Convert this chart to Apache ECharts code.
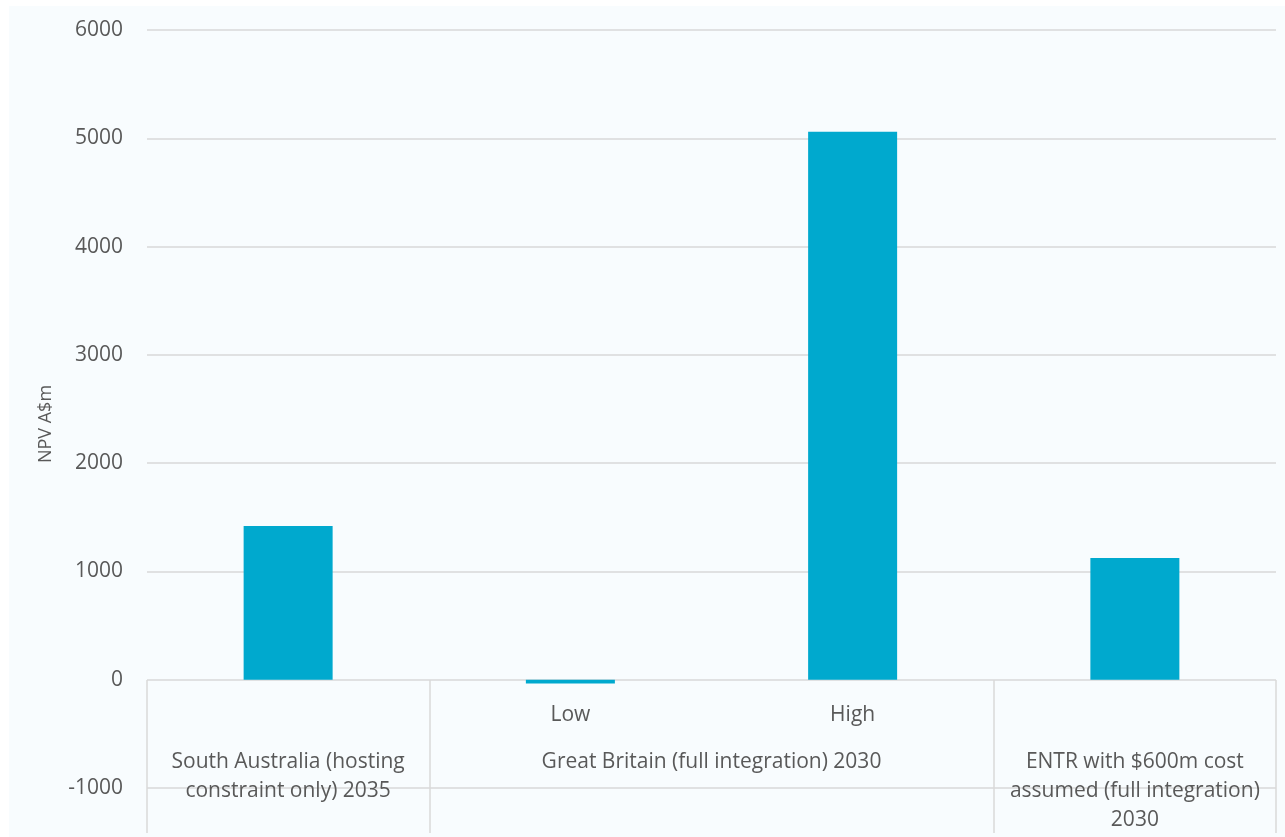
<!DOCTYPE html>
<html>
<head>
<meta charset="utf-8">
<script src="https://cdn.jsdelivr.net/npm/echarts@6/dist/echarts.min.js"></script>
<style>
  html, body { margin: 0; padding: 0; background: #ffffff; }
  #bg { position: absolute; left: 9px; top: 6px; right: 0; bottom: 0; background: #F8FCFE; }
  #chart { position: absolute; left: 0; top: 0; width: 1285px; height: 837px; }
</style>
</head>
<body>
<div id="bg"></div>
<div id="chart"></div>
<script>
// ---- data ----
const subLabels = ['', 'Low', 'High', ''];
const values = [1420, -35, 5060, 1125];
const groupLabels = [
  'South Australia (hosting\nconstraint only) 2035',
  'Great Britain (full integration) 2030',
  'ENTR with $600m cost\nassumed (full integration)\n2030'
];
const groupSpans = [1, 2, 1]; // number of categories in each group
const yTicks = { min: -1000, max: 6000, interval: 1000 };
const yAxisName = 'NPV A$m';

// group centre positions (in category units) and boundaries
const groupCenters = [];
const groupBounds = [0];
let acc = 0;
groupSpans.forEach(s => { groupCenters.push(acc + s / 2); acc += s; groupBounds.push(acc); });

const textColor = '#595959';
const lineColor = '#D9D9D9';
const font = '"Open Sans", sans-serif';

const sepInterval = function (idx) { return groupBounds.indexOf(idx) !== -1; };

const chart = echarts.init(document.getElementById('chart'));
chart.setOption({
  backgroundColor: 'transparent',
  animation: false,
  grid: { left: 147, right: 9, top: 30, bottom: 49, containLabel: false, outerBoundsMode: 'none' },
  xAxis: [
    {
      // sub-category labels + separators from zero line down to the grid bottom
      type: 'category',
      data: subLabels,
      position: 'bottom',
      axisLine: { show: false, onZero: false },
      axisTick: { show: true, inside: true, length: 108, interval: sepInterval, lineStyle: { color: lineColor, width: 1.5 } },
      axisLabel: { interval: 0, inside: true, margin: 62, color: textColor, fontSize: 21, fontFamily: font },
      splitLine: { show: false }
    },
    {
      // separators continuing below the grid bottom
      type: 'category',
      data: subLabels,
      position: 'bottom',
      axisLine: { show: false, onZero: false },
      axisTick: { show: true, inside: false, length: 45, interval: sepInterval, lineStyle: { color: lineColor, width: 1.5 } },
      axisLabel: { show: false },
      splitLine: { show: false }
    },
    {
      // group labels
      type: 'value',
      min: 0,
      max: subLabels.length,
      interval: 0.5,
      position: 'bottom',
      axisLine: { show: false, onZero: false },
      axisTick: { show: false },
      splitLine: { show: false },
      axisLabel: {
        show: true,
        inside: true,
        margin: 40,
        color: textColor,
        fontSize: 21,
        lineHeight: 29,
        fontFamily: font,
        align: 'center',
        verticalAlign: 'top',
        showMinLabel: true,
        showMaxLabel: true,
        formatter: function (v) {
          const i = groupCenters.findIndex(c => Math.abs(c - v) < 1e-6);
          return i >= 0 ? groupLabels[i] : '';
        }
      }
    }
  ],
  yAxis: {
    type: 'value',
    min: yTicks.min,
    max: yTicks.max,
    interval: yTicks.interval,
    name: yAxisName,
    nameLocation: 'middle',
    nameGap: 92,
    nameRotate: 90,
    nameTextStyle: { color: textColor, fontSize: 18, fontFamily: font, padding: [0, 30, 0, 0] },
    axisLine: { show: false },
    axisTick: { show: false },
    axisLabel: { color: textColor, fontSize: 21, fontFamily: font, margin: 24, formatter: v => String(v) },
    splitLine: { show: true, lineStyle: { color: lineColor, width: 1.5 } }
  },
  series: [
    {
      type: 'bar',
      xAxisIndex: 0,
      yAxisIndex: 0,
      data: values,
      barWidth: 89,
      itemStyle: { color: '#00A9CE' }
    }
  ]
});
</script>
</body>
</html>
